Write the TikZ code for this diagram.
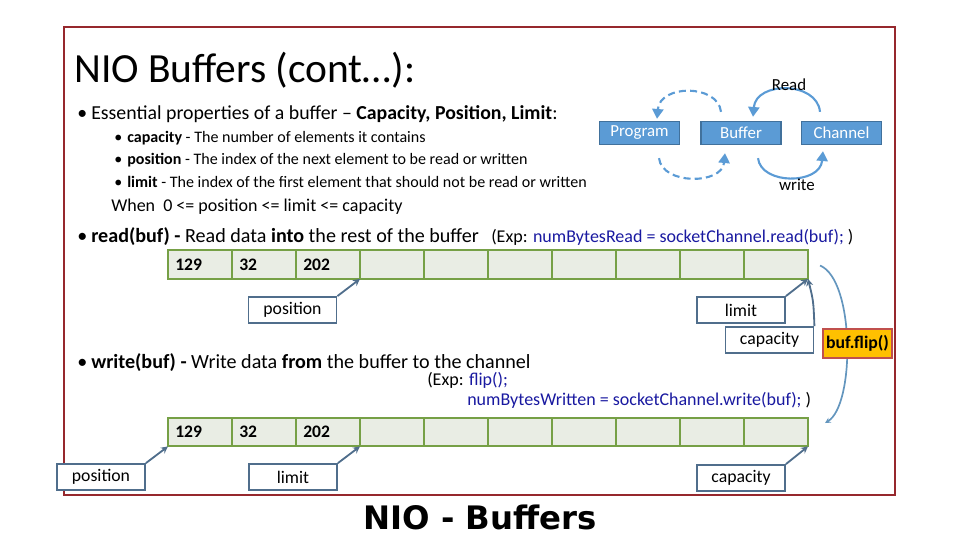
\documentclass[tikz,border=0pt]{standalone}
\usepackage{fontspec}
\setmainfont{Carlito}
\newfontfamily\footfont{DejaVu Sans}
\usetikzlibrary{positioning,calc,arrows.meta}

\definecolor{framered}{RGB}{150,40,45}
\definecolor{flowfill}{RGB}{91,155,213}
\definecolor{flowedge}{RGB}{65,113,156}
\definecolor{cellfill}{RGB}{233,237,228}
\definecolor{celledge}{RGB}{118,160,70}
\definecolor{ptredge}{RGB}{80,110,140}
\definecolor{flipfill}{RGB}{255,192,0}
\definecolor{flipedge}{RGB}{192,80,77}
\definecolor{flipcurve}{RGB}{100,150,190}
\definecolor{codeblue}{RGB}{25,25,160}

\newcommand{\bul}{\hbox to 0.35cm{\textbullet\hss}}
\newcommand{\subbul}{\hbox to 0.325cm{\textbullet\hss}}

\begin{document}
\begin{tikzpicture}[x=0.025cm, y=-0.025cm,
  txt/.style={anchor=base west, inner sep=0pt},
  cell/.style={draw=celledge, fill=cellfill, line width=1.4pt, minimum width=1.6cm, minimum height=0.72cm, inner sep=0pt, outer sep=0pt},
  num/.style={anchor=west, inner sep=0pt, font=\fontsize{12.5pt}{14pt}\selectfont\bfseries},
  ptr/.style={draw=ptredge, fill=white, line width=1.3pt, minimum width=2.2cm, minimum height=0.65cm, inner sep=0pt, font=\fontsize{12.6pt}{14pt}\selectfont},
  ptrarrow/.style={draw=ptredge, line width=1.3pt, -{Stealth[length=5pt,width=5pt]}},
  flow/.style={draw=flowedge, fill=flowfill, text=white, line width=0.8pt, minimum width=2cm, minimum height=0.58cm, inner sep=0pt, font=\fontsize{12pt}{13pt}\selectfont},
  flowarrow/.style={draw=flowfill, line width=1.5pt, -{Triangle[length=7pt,width=8pt]}},
  flowdash/.style={flowarrow, dash pattern=on 5pt off 3pt},
  exp/.style={txt, font=\fontsize{12.8pt}{14pt}\selectfont},
]
\useasboundingbox (0,0) rectangle (960,540);

% Slide frame
\draw[framered, line width=0.8pt] (64,27) rectangle (895,495);

% Title and text
\node[txt, font=\fontsize{29.5pt}{31pt}\selectfont] (title) at (74,82) {NIO Buffers (cont…):};
\node[txt, font=\fontsize{14.1pt}{16pt}\selectfont] (props) at (77,119) {\bul Essential properties of a buffer – \textbf{Capacity, Position, Limit}:};
\node[txt, font=\fontsize{11.4pt}{13pt}\selectfont] (capdef) at (114,142) {\subbul\textbf{capacity} - The number of elements it contains};
\node[txt, font=\fontsize{11.4pt}{13pt}\selectfont] (posdef) at (114,164.5) {\subbul\textbf{position} - The index of the next element to be read or written};
\node[txt, font=\fontsize{11.4pt}{13pt}\selectfont] (limdef) at (114,187) {\subbul\textbf{limit} - The index of the first element that should not be read or written};
\node[txt, font=\fontsize{12.8pt}{14pt}\selectfont] (when) at (111,211) {When \ 0 <= position <= limit <= capacity};

\node[txt, font=\fontsize{14.3pt}{16pt}\selectfont] (readop) at (77,242) {\bul\textbf{read(buf) -} Read data \textbf{into} the rest of the buffer};
\node[exp] (readexp) at (491,242) {(Exp: \textcolor{codeblue}{numBytesRead = socketChannel.read(buf);}\ )};
\node[txt, font=\fontsize{14.3pt}{16pt}\selectfont] (writeop) at (77,368) {\bul\textbf{write(buf) -} Write data \textbf{from} the buffer to the channel};
\node[exp] (writeexp) at (427,385) {(Exp: \textcolor{codeblue}{flip();}};
\node[exp] (writeexp2) at (467,405) {\textcolor{codeblue}{numBytesWritten = socketChannel.write(buf);}\ )};

% Program / Buffer / Channel
\node[flow] (prog) at (639.5,133) {Program};
\node[flow] (bufbox) at (741,133) {Buffer};
\node[flow] (chan) at (841.5,133) {Channel};
\draw[flowdash] ($(bufbox.north)+(-20,-9)$) .. controls (718,84) and (660,84) .. ($(prog.north)+(17.5,-2)$);
\draw[flowdash] ($(prog.south)+(19.5,13)$) .. controls (662,185) and (722,185) .. ($(bufbox.south)+(-16,8)$);
\draw[flowarrow] ($(chan.north)+(-21.5,-9)$) .. controls (817,81) and (756,81) .. ($(bufbox.north)+(12,-4)$);
\draw[flowarrow] ($(bufbox.south)+(17,13)$) .. controls (761,185) and (820,185) .. ($(chan.south)+(-18.5,6)$);
\node[font=\fontsize{12pt}{13pt}\selectfont] (readlbl) at (789,85) {Read};
\node[font=\fontsize{12pt}{13pt}\selectfont] (writelbl) at (797,185) {write};

% Buffers
\foreach \i in {0,...,9} {
  \node[cell] (r\i) at ({200+64*\i},264.5) {};
  \node[cell] (w\i) at ({200+64*\i},432) {};
}
\foreach \i/\v in {0/129,1/32,2/202} {
  \node[num] (rn\i) at ($(r\i.west)+(7,0)$) {\v};
  \node[num] (wn\i) at ($(w\i.west)+(7,0)$) {\v};
}

% Pointers
\node[ptr] (pos1) at (292.5,310) {position};
\node[ptr] (lim1) at (741,310) {limit};
\node[ptr] (cap1) at (769.5,340) {capacity};
\node[ptr] (pos2) at (101,477) {position};
\node[ptr] (lim2) at (293,477) {limit};
\node[ptr] (cap2) at (741,478) {capacity};
\draw[ptrarrow] (pos1.north east) -- (r3.south west);
\draw[ptrarrow] (lim1.north east) -- (r9.south east);
\draw[ptrarrow] (cap1.north east) .. controls ($(cap1.north east)+(-1,-25)$) .. (r9.south east);
\draw[ptrarrow] (pos2.north east) -- (w0.south west);
\draw[ptrarrow] (lim2.north east) -- (w3.south west);
\draw[ptrarrow] (cap2.north east) -- (w9.south east);

% flip
\draw[flipcurve, line width=1.2pt, -{Stealth[length=4pt,width=4pt]}] ($(r9.east)+(12,1)$) .. controls (855,280) and (855,405) .. ($(w9.east)+(17,-9)$);
\node[draw=flipedge, fill=flipfill, line width=0.8pt, minimum width=1.725cm, minimum height=0.725cm, inner sep=0pt, font=\fontsize{12.6pt}{14pt}\selectfont\bfseries] (flip) at (857.5,343.5) {buf.flip()};

% Footer
\node[font=\footfont\bfseries\fontsize{23pt}{26pt}\selectfont] (foot) at (480,517) {NIO - Buffers};
\end{tikzpicture}
\end{document}
